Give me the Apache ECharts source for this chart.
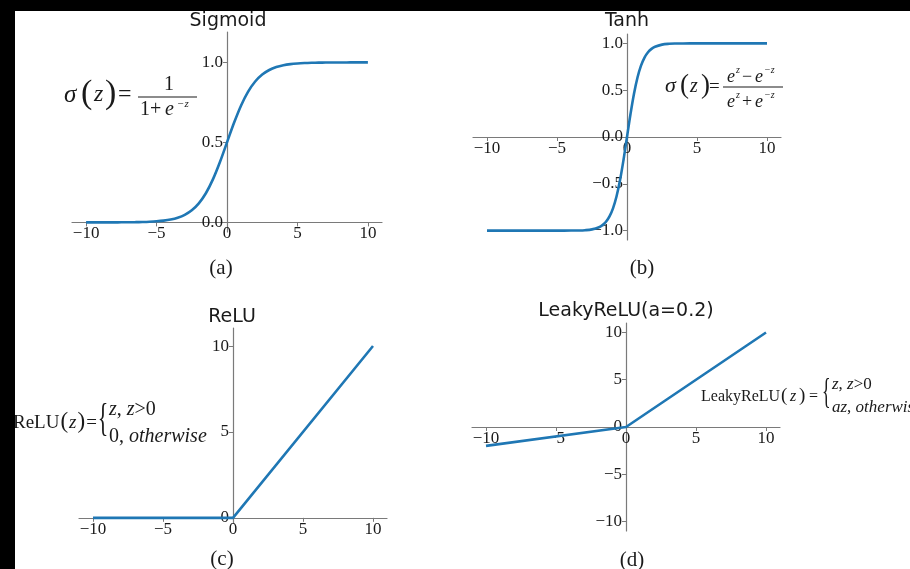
<!DOCTYPE html>
<html>
<head>
<meta charset="utf-8">
<title>Activation functions</title>
<script src="https://cdn.jsdelivr.net/npm/echarts@6/dist/echarts.min.js"></script>
<style>
  html, body { margin: 0; padding: 0; background: #fff; }
  #chart { width: 910px; height: 569px; }
</style>
</head>
<body>
<div id="chart"></div>
<script>
// ---- sampled curves ----
const sigmoidX = [-10, -9.5, -9, -8.5, -8, -7.5, -7, -6.5, -6, -5.5, -5, -4.5, -4, -3.5, -3, -2.5, -2, -1.5, -1, -0.5,
  0, 0.5, 1, 1.5, 2, 2.5, 3, 3.5, 4, 4.5, 5, 5.5, 6, 6.5, 7, 7.5, 8, 8.5, 9, 9.5, 10];
const sigmoidY = [0.0000, 0.0001, 0.0001, 0.0002, 0.0003, 0.0006, 0.0009, 0.0015, 0.0025, 0.0041, 0.0067, 0.0110, 0.0180, 0.0293, 0.0474, 0.0759, 0.1192, 0.1824, 0.2689, 0.3775,
  0.5000, 0.6225, 0.7311, 0.8176, 0.8808, 0.9241, 0.9526, 0.9707, 0.9820, 0.9890, 0.9933, 0.9959, 0.9975, 0.9985, 0.9991, 0.9994, 0.9997, 0.9998, 0.9999, 0.9999, 1.0000];

const tanhX = [-10, -8, -6, -5, -4, -3.5, -3, -2.5, -2, -1.75, -1.5, -1.25, -1, -0.75, -0.5, -0.25,
  0, 0.25, 0.5, 0.75, 1, 1.25, 1.5, 1.75, 2, 2.5, 3, 3.5, 4, 5, 6, 8, 10];
const tanhY = [-1.0000, -1.0000, -1.0000, -0.9999, -0.9993, -0.9982, -0.9951, -0.9866, -0.9640, -0.9413, -0.9051, -0.8483, -0.7616, -0.6351, -0.4621, -0.2449,
  0, 0.2449, 0.4621, 0.6351, 0.7616, 0.8483, 0.9051, 0.9413, 0.9640, 0.9866, 0.9951, 0.9982, 0.9993, 0.9999, 1.0000, 1.0000, 1.0000];

const reluX = [-10, 0, 10];
const reluY = [0, 0, 10];

const leakyX = [-10, 0, 10];
const leakyY = [-2, 0, 10];

// ---- ticks ----
const xTicks = [-10, -5, 0, 5, 10];
const sigmoidTicks = [0, 0.5, 1];
const tanhTicks = [-1, -0.5, 0, 0.5, 1];
const reluTicks = [0, 5, 10];
const leakyTicks = [-10, -5, 0, 5, 10];

const panelTitles = ['Sigmoid', 'Tanh', 'ReLU', 'LeakyReLU(a=0.2)'];
const captions = ['(a)', '(b)', '(c)', '(d)'];

// ---- styling ----
const AXIS = '#7a7a7a';
const INK = '#1a1a1a';
const CURVE = '#1f77b4';
const SERIF = '"Liberation Serif", "Times New Roman", serif';
const SANS = '"DejaVu Sans", sans-serif';

const fmtInt = v => (v < 0 ? '\u2212' + Math.abs(v) : String(v));
const fmt1 = v => (v < 0 ? '\u2212' + Math.abs(v).toFixed(1) : v.toFixed(1));

const zip = (xs, ys) => xs.map((x, i) => [x, ys[i]]);

// panel frames in pixels
const grids = [
  { left: 72,  top: 32,  width: 310, height: 200 },
  { left: 473, top: 34,  width: 308, height: 206 },
  { left: 79,  top: 328, width: 308, height: 195 },
  { left: 472, top: 323, width: 308, height: 208 }
].map(g => Object.assign({ containLabel: false, outerBoundsMode: 'none', show: false }, g));

const xRange = [-11, 11];
const yRanges = [[-0.06, 1.19], [-1.1, 1.1], [-0.3, 11.05], [-11, 11]];
const yTickSets = [sigmoidTicks, tanhTicks, reluTicks, leakyTicks];
const yFormats = [fmt1, fmt1, fmtInt, fmtInt];

const labelStyle = { fontFamily: SERIF, fontSize: 17, color: INK };

// the spines cross at the origin: shift each axis from the frame edge to zero
const xAxes = grids.map((g, i) => {
  const [lo, hi] = yRanges[i];
  const shift = (0 - lo) / (hi - lo) * g.height;
  return {
    type: 'value', gridIndex: i, min: xRange[0], max: xRange[1], position: 'bottom', offset: -shift,
    axisLine: { show: true, onZero: false, lineStyle: { color: AXIS, width: 1.2 } },
    axisTick: { show: true, length: 4, customValues: xTicks, lineStyle: { color: AXIS, width: 1 } },
    axisLabel: Object.assign({ customValues: xTicks, formatter: fmtInt, margin: 3 }, labelStyle),
    splitLine: { show: false }
  };
});

const yAxes = grids.map((g, i) => {
  const shift = (0 - xRange[0]) / (xRange[1] - xRange[0]) * g.width;
  return {
    type: 'value', gridIndex: i, min: yRanges[i][0], max: yRanges[i][1], position: 'left', offset: -shift,
    axisLine: { show: true, onZero: false, lineStyle: { color: AXIS, width: 1.2 } },
    axisTick: { show: true, length: 4, customValues: yTickSets[i], lineStyle: { color: AXIS, width: 1 } },
    axisLabel: Object.assign({ customValues: yTickSets[i], formatter: yFormats[i], margin: 4 }, labelStyle),
    splitLine: { show: false }
  };
});

const curves = [zip(sigmoidX, sigmoidY), zip(tanhX, tanhY), zip(reluX, reluY), zip(leakyX, leakyY)];
const series = curves.map((data, i) => ({
  type: 'line', xAxisIndex: i, yAxisIndex: i, data,
  showSymbol: false, smooth: i < 2 ? 0.35 : false,
  lineStyle: { color: CURVE, width: 2.6 },
  silent: true, animation: false
}));

// ---- text helpers for the formulas ----
function txt(x, y, text, font, extra) {
  return Object.assign({
    type: 'text', x, y, z: 50,
    style: { text, font, fill: INK, textAlign: 'left', align: 'left', textVerticalAlign: 'middle', verticalAlign: 'middle' }
  }, extra || {});
}
function centered(x, y, text, font) {
  return { type: 'text', x, y, z: 50,
    style: { text, font, fill: INK, textAlign: 'center', align: 'center', textVerticalAlign: 'middle', verticalAlign: 'middle' } };
}
const rm = s => s + 'px ' + SERIF;
const it = s => 'italic ' + s + 'px ' + SERIF;

const measureCtx = document.createElement('canvas').getContext('2d');
// lay out a run of pieces left to right; each piece may set its own font, size, vertical shift and trailing gap
function runs(x, y, size, parts) {
  let cx = x;
  return parts.map(p => {
    const s = p.s || size;
    const font = p.i ? it(s) : rm(s);
    const el = txt(cx, y + (p.dy || 0), p.t, font, p.sx ? { scaleX: p.sx } : null);
    measureCtx.font = font;
    cx += measureCtx.measureText(p.t).width * (p.sx || 1) + (p.gap || 0);
    return el;
  });
}
function rule(x1, x2, y) {
  return { type: 'line', z: 50, shape: { x1, y1: y, x2, y2: y }, style: { stroke: INK, lineWidth: 1.2 } };
}

const formulaA = [
  txt(64, 95, 'σ', it(25)),
  txt(81, 94, '(', rm(34)),
  txt(94, 95, 'z', it(24)),
  txt(105, 94, ')', rm(34)),
  txt(118, 95, '=', rm(24)),
  rule(138, 197, 97),
  centered(169, 85, '1', rm(20)),
  txt(140, 110, '1', rm(20)),
  txt(150, 110, '+', rm(20)),
  txt(165, 110, 'e', it(20)),
  txt(177, 104, '\u2212z', it(11))
];

const formulaB = [
  txt(665, 86, 'σ', it(22)),
  txt(680, 86, '(', rm(27)),
  txt(690, 87, 'z', it(20)),
  txt(701, 86, ')', rm(27)),
  txt(709, 87, '=', rm(19)),
  rule(723, 783, 87),
  txt(727, 77, 'e', it(18)),
  txt(736, 70, 'z', it(10)),
  txt(742, 77, '\u2212', rm(18)),
  txt(755, 77, 'e', it(18)),
  txt(764, 70, '\u2212z', it(10)),
  txt(727, 102, 'e', it(18)),
  txt(736, 95, 'z', it(10)),
  txt(742, 102, '+', rm(18)),
  txt(755, 102, 'e', it(18)),
  txt(764, 95, '\u2212z', it(10))
];

const formulaC = [
  ...runs(13, 423, 19, [
    { t: 'ReLU', gap: 1 }, { t: '(', s: 23, dy: -1, gap: 1 }, { t: 'z', i: 1, gap: 1 },
    { t: ')', s: 23, dy: -1, gap: 1 }, { t: '=', gap: 1 }, { t: '{', s: 40, dy: -3, sx: 0.55 }
  ]),
  ...runs(109, 410, 20, [{ t: 'z', i: 1 }, { t: ', ' }, { t: 'z', i: 1 }, { t: '>0' }]),
  ...runs(109, 437, 20, [{ t: '0, ' }, { t: 'otherwise', i: 1 }])
];

const formulaD = [
  txt(701, 397, 'LeakyReLU', rm(16)),
  txt(781, 396, '(', rm(19)),
  txt(790, 397, 'z', it(16)),
  txt(799, 396, ')', rm(19)),
  txt(809, 397, '=', rm(16)),
  txt(822, 394, '{', rm(36), { scaleX: 0.5 }),
  ...runs(832, 385, 17, [{ t: 'z', i: 1 }, { t: ', ' }, { t: 'z', i: 1 }, { t: '>0' }]),
  ...runs(832, 408, 17, [{ t: 'az', i: 1 }, { t: ', ' }, { t: 'otherwise', i: 1 }])
];

const titlePos = [[228, 21], [627, 21], [232, 317], [626, 311]];
const captionPos = [[221, 268], [642, 268], [222, 559], [632, 560]];

const titles = panelTitles.map((t, i) => centered(titlePos[i][0], titlePos[i][1], t, '19px ' + SANS));
const caps = captions.map((t, i) => centered(captionPos[i][0], captionPos[i][1], t, rm(21)));

// dark border strips along the top and left edges
const border = [
  { type: 'rect', z: 100, shape: { x: 0, y: 0, width: 910, height: 11 }, style: { fill: '#000' } },
  { type: 'rect', z: 100, shape: { x: 0, y: 0, width: 15, height: 569 }, style: { fill: '#000' } }
];

const chart = echarts.init(document.getElementById('chart'), null, { renderer: 'canvas' });
chart.setOption({
  backgroundColor: '#fff',
  animation: false,
  grid: grids,
  xAxis: xAxes,
  yAxis: yAxes,
  series,
  graphic: { elements: [...titles, ...caps, ...formulaA, ...formulaB, ...formulaC, ...formulaD, ...border] }
});
</script>
</body>
</html>
